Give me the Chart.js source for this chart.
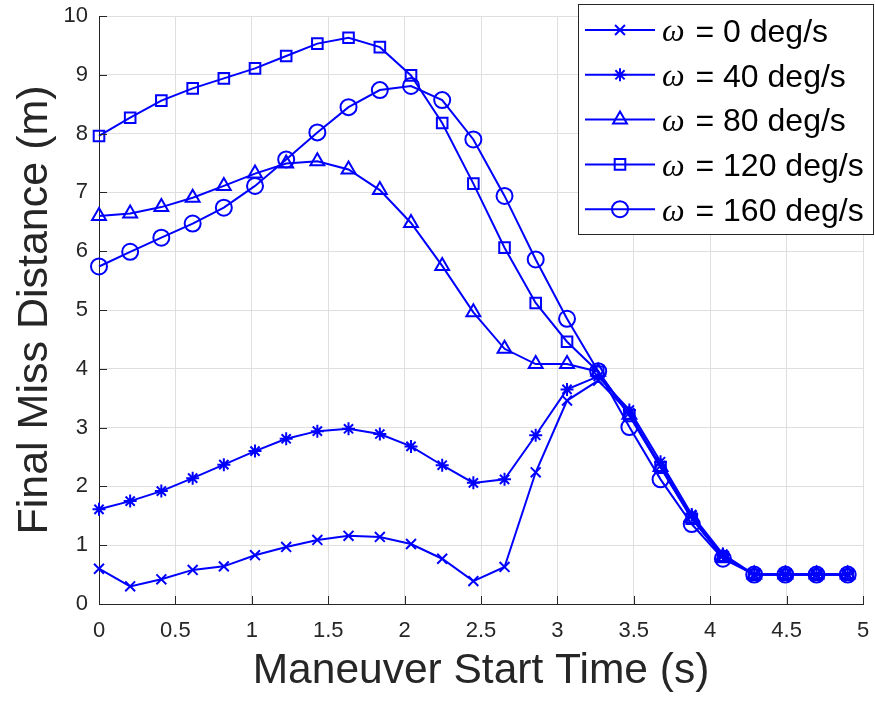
<!DOCTYPE html>
<html>
<head>
<meta charset="utf-8">
<script src="https://cdn.jsdelivr.net/npm/chart.js@4.4.0/dist/chart.umd.min.js"></script>
<style>
  html, body { margin: 0; padding: 0; background: #fff; }
  #wrap { width: 875px; height: 704px; }
</style>
</head>
<body>
<div id="wrap"><canvas id="missChart" width="875" height="704"></canvas></div>
<script>
// Final miss distance vs maneuver start time

var startTimes = [0, 0.204, 0.408, 0.613, 0.817, 1.021, 1.225, 1.429, 1.633, 1.838,
  2.042, 2.246, 2.45, 2.654, 2.858, 3.063, 3.267, 3.471, 3.675, 3.879,
  4.083, 4.288, 4.492, 4.696, 4.9];

var miss0 = [0.60, 0.30, 0.42, 0.58, 0.64, 0.83, 0.97, 1.09, 1.16, 1.14, 1.02, 0.77, 0.39,
  0.63, 2.24, 3.46, 3.80, 3.25, 2.35, 1.50, 0.82, 0.50, 0.50, 0.50, 0.50];
var miss40 = [1.61, 1.75, 1.92, 2.14, 2.37, 2.60, 2.81, 2.94, 2.98, 2.89, 2.68, 2.36, 2.06,
  2.12, 2.87, 3.65, 3.87, 3.30, 2.42, 1.52, 0.85, 0.50, 0.50, 0.50, 0.50];
var miss80 = [6.60, 6.64, 6.75, 6.91, 7.11, 7.32, 7.49, 7.53, 7.39, 7.04, 6.48, 5.75, 4.96,
  4.34, 4.08, 4.08, 3.95, 3.22, 2.33, 1.46, 0.80, 0.50, 0.50, 0.50, 0.50];
var miss120 = [7.96, 8.27, 8.56, 8.77, 8.94, 9.11, 9.32, 9.53, 9.63, 9.47, 8.99, 8.18, 7.15,
  6.06, 5.12, 4.46, 3.95, 3.20, 2.32, 1.45, 0.80, 0.50, 0.50, 0.50, 0.50];
var miss160 = [5.74, 5.99, 6.23, 6.47, 6.74, 7.11, 7.56, 8.02, 8.45, 8.74, 8.81, 8.57, 7.90,
  6.94, 5.86, 4.85, 3.96, 3.01, 2.12, 1.36, 0.77, 0.50, 0.50, 0.50, 0.50];

var seriesNames = ["0 deg/s", "40 deg/s", "80 deg/s", "120 deg/s", "160 deg/s"];
var seriesData = [miss0, miss40, miss80, miss120, miss160];
var markerStyles = ["crossRot", "star", "triangle", "rect", "circle"];
var markerSizes = [7, 6.5, 8, 7.5, 8];

var xTickLabels = ["0", "0.5", "1", "1.5", "2", "2.5", "3", "3.5", "4", "4.5", "5"];
var yTickLabels = ["0", "1", "2", "3", "4", "5", "6", "7", "8", "9", "10"];

var blue = "#0000ff";
var axisGrey = "#262626";
var FONT = "'Liberation Sans', Arial, sans-serif";

var datasets = [];
for (var i = 0; i < seriesData.length; i++) {
  var pts = [];
  for (var j = 0; j < startTimes.length; j++) {
    pts.push({ x: startTimes[j], y: seriesData[i][j] });
  }
  datasets.push({
    label: seriesNames[i],
    data: pts,
    showLine: true,
    borderColor: blue,
    borderWidth: 2,
    backgroundColor: "rgba(0,0,0,0)",
    pointStyle: markerStyles[i],
    pointRadius: markerSizes[i],
    pointBorderWidth: 2,
    pointBorderColor: blue,
    pointBackgroundColor: "rgba(0,0,0,0)",
    tension: 0,
    clip: false,
    order: seriesData.length - i
  });
}

// MATLAB style inward tick marks
var innerTicks = {
  id: "innerTicks",
  afterDraw: function(chart) {
    var ctx = chart.ctx;
    var xs = chart.scales.x, ys = chart.scales.y;
    var area = chart.chartArea;
    ctx.save();
    ctx.strokeStyle = axisGrey;
    ctx.lineWidth = 1;
    ctx.beginPath();
    for (var k = 0; k < xTickLabels.length; k++) {
      var px = Math.round(xs.getPixelForValue(k * 0.5)) + 0.5;
      ctx.moveTo(px, area.bottom);
      ctx.lineTo(px, area.bottom - 8);
    }
    for (var k = 0; k < yTickLabels.length; k++) {
      var py = Math.round(ys.getPixelForValue(k)) + 0.5;
      ctx.moveTo(area.left, py);
      ctx.lineTo(area.left + 8, py);
    }
    ctx.stroke();
    ctx.restore();
  }
};

// legend box in the upper right corner
var boxLegend = {
  id: "boxLegend",
  afterDraw: function(chart) {
    var ctx = chart.ctx;
    var left = 578.5, top = 4.5, w = 295, h = 230;
    ctx.save();
    ctx.fillStyle = "#fff";
    ctx.fillRect(left, top, w, h);
    ctx.strokeStyle = axisGrey;
    ctx.lineWidth = 1;
    ctx.strokeRect(left, top, w, h);
    for (var i = 0; i < seriesNames.length; i++) {
      var cy = 30 + i * 44.8;
      ctx.strokeStyle = blue;
      ctx.lineWidth = 2;
      ctx.beginPath();
      ctx.moveTo(585, cy);
      ctx.lineTo(655, cy);
      ctx.stroke();
      if (Chart.helpers && Chart.helpers.drawPoint) {
        ctx.fillStyle = "rgba(0,0,0,0)";
        Chart.helpers.drawPoint(ctx, {
          pointStyle: markerStyles[i],
          radius: markerSizes[i],
          borderWidth: 2,
          rotation: 0
        }, 620, cy);
      }
      ctx.fillStyle = "#000";
      ctx.textBaseline = "middle";
      ctx.textAlign = "left";
      ctx.font = "italic 32px 'Liberation Serif', serif";
      ctx.fillText("\u03c9", 662, cy + 3);
      var ow = ctx.measureText("\u03c9").width;
      ctx.font = "32px " + FONT;
      ctx.fillText(" = " + seriesNames[i], 662 + ow + 2, cy + 3);
    }
    ctx.restore();
  }
};

var missChart = new Chart(document.getElementById("missChart").getContext("2d"), {
  type: "scatter",
  data: { datasets: datasets },
  plugins: [innerTicks, boxLegend],
  options: {
    responsive: false,
    animation: false,
    layout: { padding: { top: 16, right: 12, bottom: 0, left: 0 } },
    plugins: {
      legend: { display: false },
      tooltip: { enabled: false }
    },
    scales: {
      x: {
        type: "linear",
        min: 0,
        max: 5,
        ticks: {
          stepSize: 0.5,
          color: axisGrey,
          padding: 14,
          maxRotation: 0,
          font: { family: FONT, size: 22 },
          callback: function(v) { return xTickLabels[Math.round(v * 2)]; }
        },
        grid: { color: "#dfdfdf", lineWidth: 1, drawTicks: false },
        border: { display: true, color: axisGrey, width: 1 },
        title: {
          display: true,
          text: "Maneuver Start Time (s)",
          color: axisGrey,
          font: { family: FONT, size: 42.5 },
          padding: { top: 0, bottom: 7 }
        },
        afterFit: function(s) {
          s.height = 100;
          s.paddingLeft = 0;
          s.paddingRight = 0;
        }
      },
      y: {
        type: "linear",
        min: 0,
        max: 10,
        ticks: {
          stepSize: 1,
          color: axisGrey,
          padding: 11,
          font: { family: FONT, size: 22 },
          callback: function(v) { return yTickLabels[Math.round(v)]; }
        },
        grid: { color: "#dfdfdf", lineWidth: 1, drawTicks: false },
        border: { display: true, color: axisGrey, width: 1 },
        title: {
          display: true,
          text: "Final Miss Distance (m)",
          color: axisGrey,
          font: { family: FONT, size: 43 },
          padding: { top: 9, bottom: 0 }
        },
        afterFit: function(s) {
          s.width = 99;
          s.paddingTop = 0;
          s.paddingBottom = 0;
        }
      }
    }
  }
});
</script>
</body>
</html>
